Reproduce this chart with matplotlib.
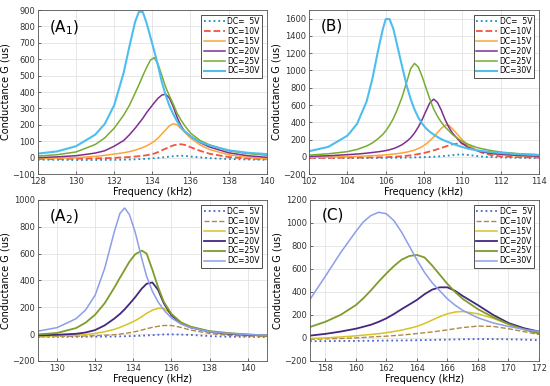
import matplotlib
matplotlib.use("Agg")
import matplotlib.pyplot as plt

# ---- datos ----
labels = ["DC=\u20075V", "DC=10V", "DC=15V", "DC=20V", "DC=25V", "DC=30V"]

# Panel A1
fA1 = [128, 129, 130, 131, 131.5, 132, 132.5, 132.8, 133.1, 133.3, 133.5, 133.7, 133.9, 134.1,
       134.3, 134.5, 134.7, 134.9, 135.1, 135.3, 135.5, 135.7, 136, 136.5, 137, 138, 139, 140]
gA1_5 = [-12, -13, -14, -14, -13, -13, -12, -11, -10, -9, -8, -7, -5, -3,
         -1, 1, 4, 6, 9, 11, 12, 11, 7, 2, -3, -8, -11, -13]
gA1_10 = [-8, -8, -6, -4, -3, -1, 2, 4, 7, 9, 12, 15, 20, 25,
          34, 45, 55, 66, 75, 80, 82, 78, 64, 42, 24, 4, -5, -10]
gA1_15 = [-5, -3, 0, 8, 14, 22, 30, 37, 46, 54, 62, 72, 85, 100,
          120, 145, 170, 195, 207, 200, 178, 155, 120, 78, 50, 18, 2, -6]
gA1_20 = [0, 5, 12, 28, 42, 70, 105, 140, 180, 210, 240, 275, 305, 335,
          362, 382, 387, 362, 310, 245, 195, 160, 132, 92, 65, 30, 12, 2]
gA1_25 = [10, 18, 35, 80, 120, 180, 260, 320, 395, 445, 500, 550, 595, 610,
          570, 500, 430, 375, 325, 270, 230, 195, 150, 105, 78, 42, 25, 15]
gA1_30 = [25, 38, 70, 140, 205, 320, 520, 680, 830, 890, 888, 820, 735, 650,
          560, 460, 380, 315, 265, 220, 185, 160, 130, 95, 75, 45, 30, 22]

# Panel B
fB = [102, 103, 104, 104.5, 105, 105.3, 105.6, 105.85, 106.0, 106.2, 106.4, 106.6, 106.85,
      107.1, 107.3, 107.5, 107.7, 107.9, 108.1, 108.3, 108.5, 108.7, 108.9, 109.1, 109.3,
      109.5, 109.9, 110.3, 110.7, 111, 111.5, 112, 113, 114]
gB_5 = [-15, -15, -15, -15, -14, -14, -13, -13, -13, -12, -12, -11, -10,
        -9, -8, -7, -6, -5, -3, -1, 1, 4, 7, 11, 15,
        20, 28, 22, 10, 3, -3, -7, -12, -14]
gB_10 = [-12, -12, -10, -9, -8, -7, -6, -5, -4, -2, 0, 3, 7,
         12, 17, 24, 32, 40, 50, 62, 75, 88, 102, 118, 132,
         145, 158, 130, 80, 50, 20, 5, -5, -10]
gB_15 = [-5, -3, 2, 5, 10, 13, 17, 20, 23, 27, 32, 37, 45,
         55, 65, 78, 95, 118, 148, 185, 230, 280, 330, 365, 365,
         320, 220, 130, 80, 60, 38, 25, 10, 3]
gB_20 = [5, 12, 25, 32, 42, 50, 58, 66, 72, 82, 95, 112, 140,
         180, 220, 275, 345, 430, 530, 625, 668, 630, 540, 430, 340,
         270, 170, 110, 75, 58, 40, 30, 15, 8]
gB_25 = [20, 35, 60, 85, 125, 160, 210, 260, 300, 365, 445, 545, 690,
         870, 1020, 1082, 1040, 930, 800, 670, 555, 470, 400, 345, 300,
         255, 190, 145, 112, 95, 72, 55, 35, 25]
gB_30 = [65, 115, 245, 380, 640, 900, 1230, 1480, 1595, 1595, 1480, 1290, 1050,
         820, 670, 550, 455, 385, 330, 290, 258, 230, 205, 185, 168,
         150, 120, 95, 78, 68, 55, 45, 30, 20]

# Panel A2
fA2 = [129, 130, 131, 131.5, 132, 132.5, 133, 133.3, 133.55, 133.8, 134.1, 134.45,
       134.7, 135, 135.3, 135.6, 136, 136.5, 137, 138, 139, 140, 141]
gA2_5 = [-20, -20, -20, -20, -19, -19, -18, -17, -16, -15, -14, -12,
         -10, -8, -5, -3, -2, -4, -6, -15, -20, -20, -22]
gA2_10 = [-20, -18, -16, -14, -12, -9, -5, 0, 5, 10, 18, 30,
          40, 50, 58, 64, 64, 50, 30, 5, -10, -15, -18]
gA2_15 = [-15, -12, -8, -4, 5, 18, 35, 50, 65, 80, 100, 130,
          155, 178, 192, 192, 150, 90, 55, 18, 0, -8, -12]
gA2_20 = [-10, -5, 2, 12, 30, 65, 115, 150, 185, 225, 275, 340,
          375, 385, 330, 230, 140, 80, 50, 18, 2, -6, -10]
gA2_25 = [-2, 8, 45, 85, 145, 230, 345, 420, 480, 540, 595, 622,
          600, 480, 350, 240, 150, 85, 55, 22, 8, -3, -10]
gA2_30 = [22, 48, 115, 180, 290, 490, 760, 900, 940, 890, 760, 560,
          430, 320, 240, 180, 120, 75, 48, 18, 5, -3, -8]

# Panel C
fC = [157, 158, 159, 160, 160.5, 161, 161.5, 162, 162.5, 163, 163.5, 164,
      164.5, 165, 165.5, 166, 166.5, 167, 168, 169, 170, 171, 172]
gC_5 = [-28, -28, -27, -26, -25, -25, -24, -23, -23, -22, -21, -20,
        -19, -18, -16, -15, -13, -12, -10, -10, -12, -15, -20]
gC_10 = [-12, -8, -5, 0, 4, 8, 12, 15, 20, 25, 31, 38,
         45, 52, 61, 70, 80, 90, 103, 100, 80, 55, 30]
gC_15 = [-5, 0, 8, 18, 24, 30, 37, 45, 56, 68, 83, 100,
         125, 155, 185, 210, 225, 230, 210, 170, 120, 75, 40]
gC_20 = [20, 35, 55, 80, 97, 115, 140, 170, 208, 250, 290, 330,
         380, 420, 440, 440, 410, 365, 285, 200, 130, 85, 55]
gC_25 = [95, 140, 200, 285, 345, 415, 490, 560, 625, 680, 712, 722,
         700, 630, 550, 470, 400, 340, 250, 180, 120, 75, 38]
gC_30 = [335, 535, 740, 925, 1010, 1065, 1093, 1080, 1020, 920, 800, 680,
         570, 480, 410, 340, 285, 240, 175, 130, 100, 75, 55]

# colores de cada juego
colores_1 = ["#1a8cc4", "#f2553a", "#fba53a", "#7e2f8e", "#77ac30", "#4dbeee"]
colores_2 = ["#4a62d6", "#b08848", "#d8c224", "#44287e", "#7d9c2c", "#8c9ee8"]
estilos = [":", "--", "-", "-", "-", "-"]
anchos_1 = [1.3, 1.3, 1.1, 1.1, 1.1, 1.5]
anchos_2 = [1.3, 1.0, 1.1, 1.3, 1.3, 1.1]


def dibujar(ax, f, series, colores, anchos, titulo, xlim, ylim, xt, yt):
    for g, c, ls, lw, lab in zip(series, colores, estilos, anchos, labels):
        ax.plot(f, g, color=c, ls=ls, lw=lw, label=lab)
    ax.set_xlim(xlim)
    ax.set_ylim(ylim)
    ax.set_xticks(xt)
    ax.set_yticks(yt)
    ax.grid(True, color="#e3e3e3", lw=0.6)
    ax.set_axisbelow(True)
    ax.tick_params(labelsize=6, length=2, width=0.5, pad=2, colors="#333333", direction="in")
    for s in ax.spines.values():
        s.set_linewidth(0.6)
        s.set_color("#555555")
    ax.set_xlabel("Frequency (kHz)", fontsize=7, labelpad=1)
    ax.set_ylabel("Conductance G (us)", fontsize=7)
    ax.yaxis.set_label_coords(-0.12, 0.5)
    ax.text(0.05, 0.95, titulo, transform=ax.transAxes, fontsize=11, va="top", ha="left")
    leg = ax.legend(loc="upper right", fontsize=5.5, handlelength=2.8, handletextpad=0.3,
                    handleheight=0.5, labelspacing=0.12, borderpad=0.3, fancybox=False,
                    framealpha=1, borderaxespad=0.6)
    leg.get_frame().set_edgecolor("#333333")
    leg.get_frame().set_linewidth(0.6)


fig = plt.figure(figsize=(5.5, 3.86), dpi=100)
axA1 = fig.add_axes([0.069, 0.549, 0.416, 0.425])
axB = fig.add_axes([0.562, 0.549, 0.418, 0.425])
axA2 = fig.add_axes([0.069, 0.065, 0.416, 0.417])
axC = fig.add_axes([0.5636, 0.065, 0.4164, 0.417])

dibujar(axA1, fA1, [gA1_5, gA1_10, gA1_15, gA1_20, gA1_25, gA1_30], colores_1, anchos_1,
        "(A$_1$)", (128, 140), (-100, 900), range(128, 141, 2), range(-100, 901, 100))
dibujar(axB, fB, [gB_5, gB_10, gB_15, gB_20, gB_25, gB_30], colores_1, anchos_1,
        "(B)", (102, 114), (-200, 1700), range(102, 115, 2), range(-200, 1701, 200))
dibujar(axA2, fA2, [gA2_5, gA2_10, gA2_15, gA2_20, gA2_25, gA2_30], colores_2, anchos_2,
        "(A$_2$)", (129, 141), (-200, 1000), range(130, 141, 2), range(-200, 1001, 200))
dibujar(axC, fC, [gC_5, gC_10, gC_15, gC_20, gC_25, gC_30], colores_2, anchos_2,
        "(C)", (157, 172), (-200, 1200), range(158, 173, 2), range(-200, 1201, 200))

fig.savefig("out.png", dpi=100)
